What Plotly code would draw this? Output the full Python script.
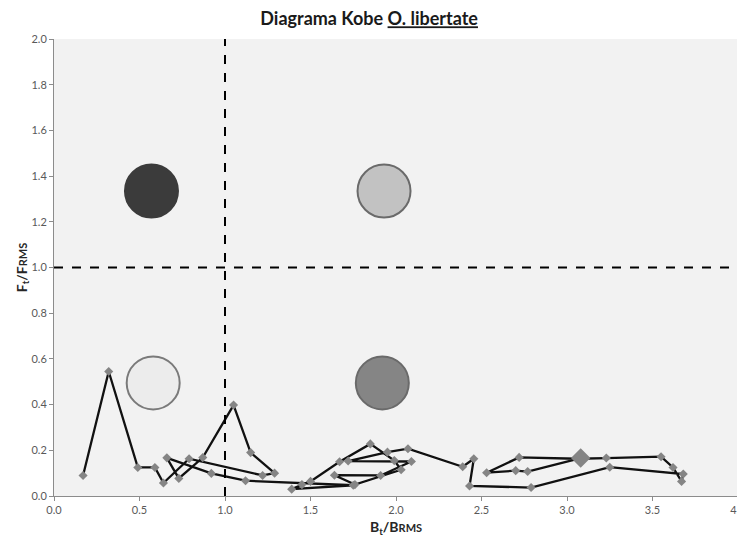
import plotly.graph_objects as go

# Kobe trajectory (B/Brms, F/Frms), in drawing order
b_ratio = [0.17, 0.32, 0.49, 0.59, 0.64, 0.79, 1.22, 1.29, 1.15, 1.05,
           0.87, 0.73, 0.66, 0.92, 1.12, 1.75, 1.39, 1.45, 1.50, 1.67,
           1.85, 1.99, 2.03, 1.76, 1.64, 1.91, 2.09, 1.72, 1.95, 2.07,
           2.39, 2.455, 2.43, 2.79, 3.25, 3.68, 3.67, 3.62, 3.55, 3.23,
           3.06, 2.72, 2.53, 2.70, 2.77, 3.08]
f_ratio = [0.090, 0.545, 0.125, 0.125, 0.057, 0.163, 0.090, 0.100, 0.190, 0.398,
           0.168, 0.077, 0.167, 0.099, 0.067, 0.047, 0.030, 0.050, 0.064, 0.150,
           0.228, 0.155, 0.115, 0.050, 0.091, 0.090, 0.151, 0.153, 0.192, 0.207,
           0.128, 0.163, 0.044, 0.037, 0.126, 0.096, 0.064, 0.125, 0.172, 0.166,
           0.163, 0.169, 0.102, 0.111, 0.107, 0.166]

# quadrant symbols
quad_x = [0.57, 1.93, 0.58, 1.92]
quad_y = [1.335, 1.335, 0.495, 0.495]
quad_colors = ["#3b3b3b", "#c2c2c2", "#ececec", "#858585"]
quad_lines = ["#3b3b3b", "#6a6a6a", "#7a7a7a", "#6a6a6a"]

x_ticks = [0.0, 0.5, 1.0, 1.5, 2.0, 2.5, 3.0, 3.5, 4.0]
y_ticks = [0.0, 0.2, 0.4, 0.6, 0.8, 1.0, 1.2, 1.4, 1.6, 1.8, 2.0]

fig = go.Figure()

fig.add_trace(
    go.Scatter(
        x=quad_x,
        y=quad_y,
        mode="markers",
        marker=dict(size=53, color=quad_colors,
                    line=dict(color=quad_lines, width=2)),
        hoverinfo="skip",
        showlegend=False,
    )
)

fig.add_vline(x=1.0, line=dict(color="black", width=2, dash="dash"))
fig.add_hline(y=1.0, line=dict(color="black", width=2, dash="dash"))

fig.add_trace(
    go.Scatter(
        x=b_ratio,
        y=f_ratio,
        mode="lines+markers",
        line=dict(color="#111111", width=2.3),
        marker=dict(symbol="diamond", size=7, color="#858585"),
        showlegend=False,
    )
)

# last year highlighted
fig.add_trace(
    go.Scatter(
        x=[b_ratio[-1]],
        y=[f_ratio[-1]],
        mode="markers",
        marker=dict(symbol="diamond", size=15, color="#858585"),
        showlegend=False,
    )
)

axis_font = dict(family="Lato, Open Sans, sans-serif", size=11, color="#595959")
title_font = dict(family="Lato, Open Sans, sans-serif", size=14, color="#262626")

# page body has an 8px margin, so the figure is shrunk and offset by it
fig.update_layout(
    width=737,
    height=529,
    paper_bgcolor="white",
    plot_bgcolor="#f2f2f2",
    margin=dict(l=46, r=7, t=31, b=41),
    title=dict(
        text="<b>Diagrama Kobe <u>O. libertate</u></b>",
        x=0.49,
        xanchor="center",
        y=1 - 11 / 529,
        yanchor="middle",
        yref="container",
        font=dict(family="Lato, Open Sans, sans-serif", size=18, color="#1a1a1a"),
    ),
    xaxis=dict(
        range=[0, 4],
        tickvals=x_ticks,
        tickformat=".1f",
        showgrid=False,
        zeroline=False,
        showline=True,
        linecolor="#8c8c8c",
        linewidth=1,
        ticks="outside",
        ticklen=4,
        tickcolor="#8c8c8c",
        tickfont=axis_font,
        ticklabeloverflow="allow",
        title=dict(
            text="<b>B<sub>t</sub>/B<span style='font-size:11px'>RMS</span></b>",
            font=title_font,
            standoff=8,
        ),
        automargin=False,
    ),
    yaxis=dict(
        range=[0, 2],
        tickvals=y_ticks,
        tickformat=".1f",
        showgrid=False,
        zeroline=False,
        showline=True,
        linecolor="#8c8c8c",
        linewidth=1,
        ticks="outside",
        ticklen=4,
        tickcolor="#8c8c8c",
        tickfont=axis_font,
        title=dict(
            text="<b>F<sub>t</sub>/F<span style='font-size:11px'>RMS</span></b>",
            font=title_font,
            standoff=0,
        ),
        automargin=False,
    ),
)

fig.write_html("out.html")
